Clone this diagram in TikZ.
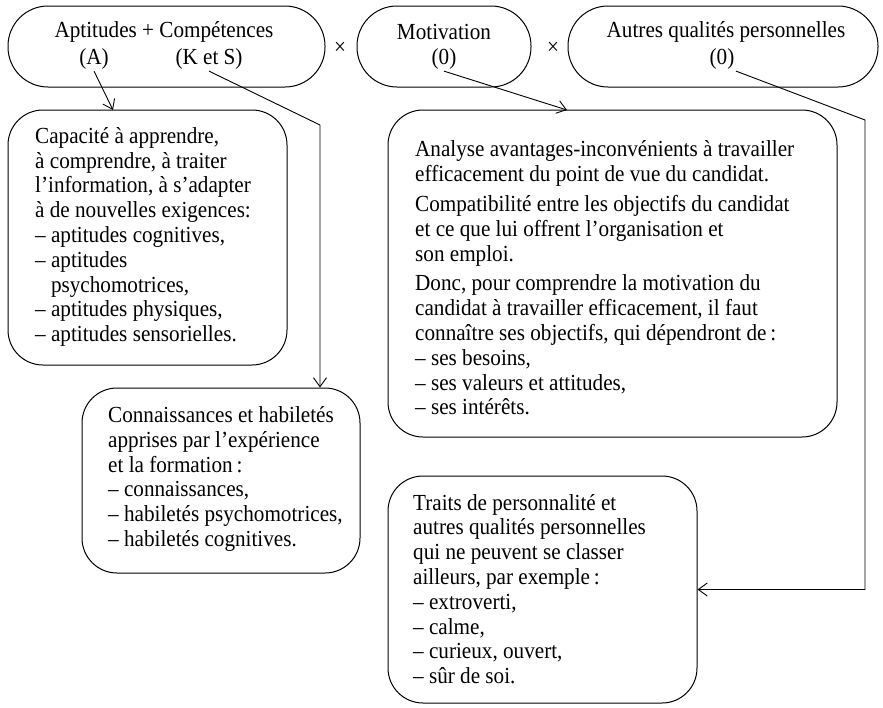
\documentclass[tikz,border=0pt]{standalone}
\usepackage{fontspec}
\setmainfont[FakeStretch=0.92]{Liberation Serif}
\usetikzlibrary{arrows.meta,calc}
\begin{document}
\begin{tikzpicture}[x=1pt,y=-1pt,
  every node/.style={font=\fontsize{23}{24.8}\selectfont},
  stadium/.style={draw,line width=1pt,rounded corners=40pt,minimum height=81pt,inner sep=0pt},
  panel/.style={draw,line width=1pt,rounded corners=35pt,inner sep=0pt},
  txt/.style={inner sep=0pt,align=left},
  lbl/.style={inner sep=1.5pt},
  link/.style={line width=0.9pt,-{Straight Barb[length=9pt,width=13pt]}}]
\useasboundingbox (0,0) rectangle (883,707);
% top row
\node[stadium,minimum width=317pt] (top1) at (166.5,46.5) {};
\node[stadium,minimum width=174pt] (top2) at (444,46.5) {};
\node[stadium,minimum width=310pt] (top3) at (723,46.5) {};
\node[lbl] (t1) at (164,32) {Aptitudes + Compétences};
\node[lbl] (a1) at (94,59) {(A)};
\node[lbl] (ks1) at (209,59) {(K et S)};
\node[lbl] (m1) at (444,32) {Motivation};
\node[lbl] (m0) at (444,59) {(0)};
\node[lbl] (q1) at (726,32) {Autres qualités personnelles};
\node[lbl] (q0) at (722,59) {(0)};
\node[lbl] (x1) at (340,48) {×};
\node[lbl] (x2) at (553,48) {×};
% panels
\node[panel,minimum width=279pt,minimum height=255pt] (cap) at (147.5,237.5) {};
\node[panel,minimum width=278pt,minimum height=185pt] (con) at (221,480.5) {};
\node[panel,minimum width=449pt,minimum height=327pt] (ana) at (612.5,273.5) {};
\node[panel,minimum width=309pt,minimum height=227pt] (tra) at (542.5,589.5) {};
\node[txt,anchor=west] (capT) at (35,237) {Capacité à apprendre,\\
à comprendre, à traiter\\
l'information, à s'adapter\\
à de nouvelles exigences:\\
– aptitudes cognitives,\\
– aptitudes\\
\phantom{– }psychomotrices,\\
– aptitudes physiques,\\
– aptitudes sensorielles.};
\node[txt,anchor=west] (conT) at (108,479) {Connaissances et habiletés\\
apprises par l'expérience\\
et la formation\,:\\
– connaissances,\\
– habiletés psychomotrices,\\
– habiletés cognitives.};
\node[txt,anchor=west] (anaT) at (415,278) {Analyse avantages-inconvénients à travailler\\
efficacement du point de vue du candidat.\\[5pt]
Compatibilité entre les objectifs du candidat\\
et ce que lui offrent l'organisation et\\
son emploi.\\[5pt]
Donc, pour comprendre la motivation du\\
candidat à travailler efficacement, il faut\\
connaître ses objectifs, qui dépendront de\,:\\
– ses besoins,\\
– ses valeurs et attitudes,\\
– ses intérêts.};
\node[txt,anchor=west] (traT) at (413,589) {Traits de personnalité et\\
autres qualités personnelles\\
qui ne peuvent se classer\\
ailleurs, par exemple\,:\\
– extroverti,\\
– calme,\\
– curieux, ouvert,\\
– sûr de soi.};
% connectors
\coordinate (capin) at (113,110);
\coordinate (ksbend) at (320,125);
\coordinate (anain) at (567,110);
\coordinate (aqbend) at (865,120);
\draw[link] (a1.south) -- (capin);
\draw[link] (ks1.south) -- (ksbend) -- (ksbend |- con.north);
\draw[link] (m0.south) -- (anain);
\draw[link] (q0.south east) -- (aqbend) -- (aqbend |- tra.east) -- (tra.east);
\end{tikzpicture}
\end{document}
